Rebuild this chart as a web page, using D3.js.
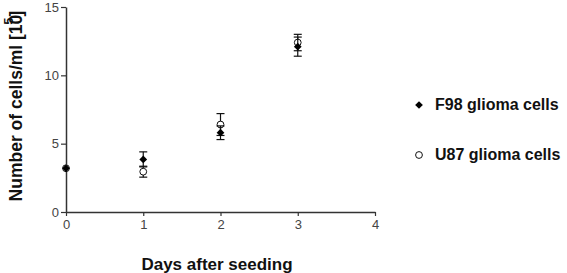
<!DOCTYPE html>
<html>
<head>
<meta charset="utf-8">
<script src="https://cdn.jsdelivr.net/npm/d3@7"></script>
<style>
  body { margin: 0; background: #fff; }
  text { font-family: Arial, "Liberation Sans", sans-serif; }
</style>
</head>
<body>
<svg id="chart" width="567" height="273"></svg>
<script>
// growth of glioma cells after seeding
const days = [0, 1, 2, 3];
const f98Mean = [3.2, 3.85, 5.8, 12.1];
const f98Err = [0.1, 0.55, 0.5, 0.7];
const u87Mean = [3.2, 2.95, 6.4, 12.4];
const u87Err = [0.1, 0.4, 0.8, 0.6];
const xTicks = [0, 1, 2, 3, 4];
const yTicks = [0, 5, 10, 15];

function drawChart() {
    const svg = d3.select("#chart");
    const axisColor = "#333";

    const x = d3.scaleLinear().domain([0, 4]).range([66, 375]);
    const y = d3.scaleLinear().domain([0, 15]).range([212, 7]);

    const xAxis = svg.append("g")
        .attr("transform", "translate(0,212)")
        .call(d3.axisBottom(x).tickValues(xTicks).tickFormat(d3.format("d"))
            .tickSize(4).tickSizeOuter(0).tickPadding(4));
    const yAxis = svg.append("g")
        .attr("transform", "translate(66,0)")
        .call(d3.axisLeft(y).tickValues(yTicks).tickFormat(d3.format("d"))
            .tickSize(5).tickSizeOuter(0).tickPadding(2));

    [xAxis, yAxis].forEach(g => {
        g.select(".domain").attr("stroke", axisColor).attr("stroke-width", 1.5);
        g.selectAll(".tick line").attr("stroke", axisColor).attr("stroke-width", 1.2);
        g.selectAll(".tick text")
            .attr("fill", "#444")
            .style("font-size", "13px")
            .style("font-family", "Arial, 'Liberation Sans', sans-serif");
    });

    const series = [
        { name: "F98 glioma cells", mean: f98Mean, err: f98Err, filled: true },
        { name: "U87 glioma cells", mean: u87Mean, err: u87Err, filled: false }
    ];

    // rotated square looks closer to the original diamond
    const diamond = d3.symbol().type(d3.symbolSquare).size(30);

    function marker(sel, s) {
        if (s.filled) {
            sel.append("path").attr("d", diamond)
                .attr("transform", d => `translate(${d[0]},${d[1]}) rotate(45)`)
                .attr("fill", "#000");
        } else {
            sel.append("circle").attr("cx", d => d[0]).attr("cy", d => d[1])
                .attr("r", 3.4).attr("fill", "#fff")
                .attr("stroke", "#111").attr("stroke-width", 1);
        }
    }

    // draw open circles first so the diamonds sit on top
    series.slice().reverse().forEach(s => {
        const g = svg.append("g");
        const pts = days.map((d, i) => ({ day: d, m: s.mean[i], e: s.err[i] }));

        g.selectAll("line.bar").data(pts).enter().append("line")
            .attr("x1", d => x(d.day)).attr("x2", d => x(d.day))
            .attr("y1", d => y(d.m + d.e)).attr("y2", d => y(d.m - d.e))
            .attr("stroke", "#111").attr("stroke-width", 1.2);
        ["top", "bot"].forEach(k => {
            g.selectAll("line.cap" + k).data(pts.filter(d => d.e > 0.2)).enter().append("line")
                .attr("x1", d => x(d.day) - 4).attr("x2", d => x(d.day) + 4)
                .attr("y1", d => y(k === "top" ? d.m + d.e : d.m - d.e))
                .attr("y2", d => y(k === "top" ? d.m + d.e : d.m - d.e))
                .attr("stroke", "#111").attr("stroke-width", 1.2);
        });

        const m = g.selectAll("g.pt").data(pts.map(d => [x(d.day), y(d.m)])).enter().append("g");
        marker(m, s);
    });

    // legend
    series.forEach((s, i) => {
        const ly = 105 + i * 50;
        const lg = svg.append("g").datum([419, ly]);
        marker(lg, s);
        svg.append("text").attr("x", 435).attr("y", ly + 5)
            .style("font-size", "16px").style("font-weight", "bold")
            .attr("fill", "#111").text(s.name);
    });

    // axis titles
    svg.append("text").attr("x", 217).attr("y", 270)
        .attr("text-anchor", "middle")
        .style("font-size", "17px").style("font-weight", "bold").attr("fill", "#111")
        .text("Days after seeding");

    const yt = svg.append("text")
        .attr("transform", "translate(22,106) rotate(-90)")
        .attr("text-anchor", "middle")
        .style("font-size", "17.5px").style("font-weight", "bold").attr("fill", "#111");
    yt.append("tspan").text("Number of cells/ml [10");
    yt.append("tspan").attr("dy", -9).attr("dx", -10).style("font-size", "13px").text("5");
    yt.append("tspan").attr("dy", 9).attr("dx", 1).text("]");
}

document.addEventListener("DOMContentLoaded", drawChart);
</script>
</body>
</html>
